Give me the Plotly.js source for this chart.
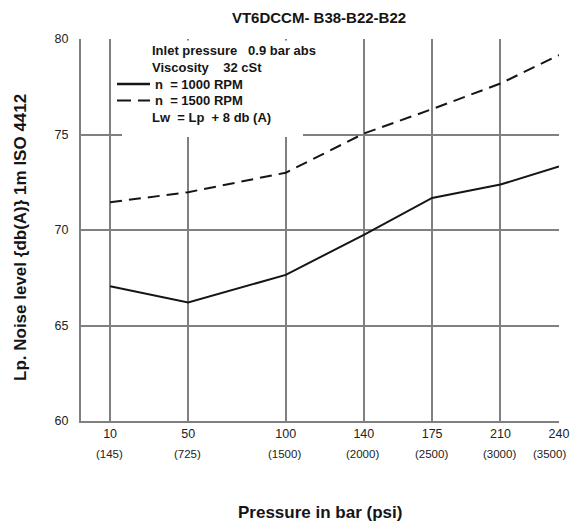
<!DOCTYPE html>
<html>
<head>
<meta charset="utf-8">
<script src="https://cdn.plot.ly/plotly-3.0.1.min.js"></script>
<style>html,body{margin:0;padding:0;background:#fff;}#chart{width:570px;height:523px;}</style>
</head>
<body>
<div id="chart"></div>
<script>
const pressureBar = [10, 50, 100, 140, 175, 210, 240];
const pressurePsi = ['(145)', '(725)', '(1500)', '(2000)', '(2500)', '(3000)', '(3500)'];
const noise1000 = [67.05, 66.2, 67.65, 69.75, 71.68, 72.38, 73.33];
const noise1500 = [71.45, 71.98, 73.0, 75.05, 76.33, 77.67, 79.16];
const yTicks = [60, 65, 70, 75, 80];
const legendText = ['Inlet pressure&nbsp;&nbsp;&nbsp;0.9 bar abs', 'Viscosity&nbsp;&nbsp;&nbsp;&nbsp;32 cSt', 'n&nbsp;&nbsp;= 1000 RPM', 'n&nbsp;&nbsp;= 1500 RPM', 'Lw&nbsp;&nbsp;= Lp&nbsp;&nbsp;+ 8 db (A)'];

const FONT = 'Liberation Sans, Arial, Helvetica, sans-serif';
const GRID = '#808080';
const INK = '#151515';

// plot area in pixels
const L = 81, R = 559, T = 39, B = 421;
const px = v => (v - L) / (R - L);
const py = v => 1 - (v - T) / (B - T);

const traces = [
  {x: pressureBar, y: noise1000, mode: 'lines', line: {color: INK, width: 2, dash: 'solid'}, name: 'n = 1000 RPM', hoverinfo: 'skip'},
  {x: pressureBar, y: noise1500, mode: 'lines', line: {color: INK, width: 2, dash: '12px,7px'}, name: 'n = 1500 RPM', hoverinfo: 'skip'}
];

const annotations = [];
pressurePsi.forEach((t, i) => {
  const last = i === pressurePsi.length - 1;
  annotations.push({
    x: pressureBar[i], xref: 'x', y: 0, yref: 'paper', yshift: -33, xshift: last ? 9 : -1,
    text: t, showarrow: false, font: {family: FONT, size: 11.5, color: '#222'},
    xanchor: last ? 'right' : 'center', yanchor: 'middle'
  });
});
const legendX = [150, 150, 153, 153, 150];
const legendY = [50.7, 67.5, 84, 100.5, 117.5];
legendText.forEach((t, i) => annotations.push({
  x: px(legendX[i]), xref: 'paper', y: py(legendY[i]), yref: 'paper',
  text: '<b>' + t + '</b>', showarrow: false, xanchor: 'left', yanchor: 'middle',
  font: {family: FONT, size: 13, color: INK}
}));
annotations.push({x: px(320), xref: 'paper', y: py(512), yref: 'paper', text: '<b>Pressure in bar (psi)</b>', showarrow: false, xanchor: 'center', yanchor: 'middle', font: {family: FONT, size: 17, color: INK}});
annotations.push({x: px(20), xref: 'paper', y: py(238), yref: 'paper', text: '<b>Lp. Noise level {db(A)} 1m ISO 4412</b>', textangle: -90, showarrow: false, xanchor: 'center', yanchor: 'middle', font: {family: FONT, size: 17, color: INK}});

const shapes = [
  {type: 'rect', xref: 'paper', yref: 'paper', x0: px(122), x1: px(303), y0: py(137), y1: py(40.5), fillcolor: '#fff', line: {width: 0}, layer: 'above'},
  {type: 'line', xref: 'paper', yref: 'paper', x0: px(117), x1: px(150), y0: py(84), y1: py(84), line: {color: INK, width: 2.5}},
  {type: 'line', xref: 'paper', yref: 'paper', x0: px(117), x1: px(150), y0: py(100.5), y1: py(100.5), line: {color: INK, width: 2, dash: '14px,7px'}}
];

const layout = {
  width: 570, height: 523,
  margin: {l: L, r: 570 - R, t: T, b: 523 - B},
  paper_bgcolor: '#fff', plot_bgcolor: '#fff',
  showlegend: false,
  font: {family: FONT, color: '#222'},
  title: {text: '<b>VT6DCCM- B38-B22-B22</b>', x: 319 / 570, xanchor: 'center', y: 1 - 18 / 523, yanchor: 'middle', font: {family: FONT, size: 15, color: INK}},
  xaxis: {
    range: [-4.9, 240], tickmode: 'array', tickvals: pressureBar, ticktext: pressureBar.map(String),
    showgrid: true, gridcolor: GRID, gridwidth: 2, zeroline: false,
    showline: true, linecolor: GRID, linewidth: 2, ticks: '', ticklabelstandoff: 0,
    tickfont: {family: FONT, size: 12.5, color: '#222'}, fixedrange: true
  },
  yaxis: {
    range: [60, 80], tickmode: 'array', tickvals: yTicks, ticktext: yTicks.map(String),
    showgrid: true, gridcolor: GRID, gridwidth: 2, zeroline: false,
    showline: true, linecolor: GRID, linewidth: 2, ticks: '', ticklabelstandoff: 8,
    tickfont: {family: FONT, size: 12.5, color: '#222'}, fixedrange: true
  },
  annotations: annotations,
  shapes: shapes
};

Plotly.newPlot('chart', traces, layout, {staticPlot: true, displayModeBar: false});
</script>
</body>
</html>
